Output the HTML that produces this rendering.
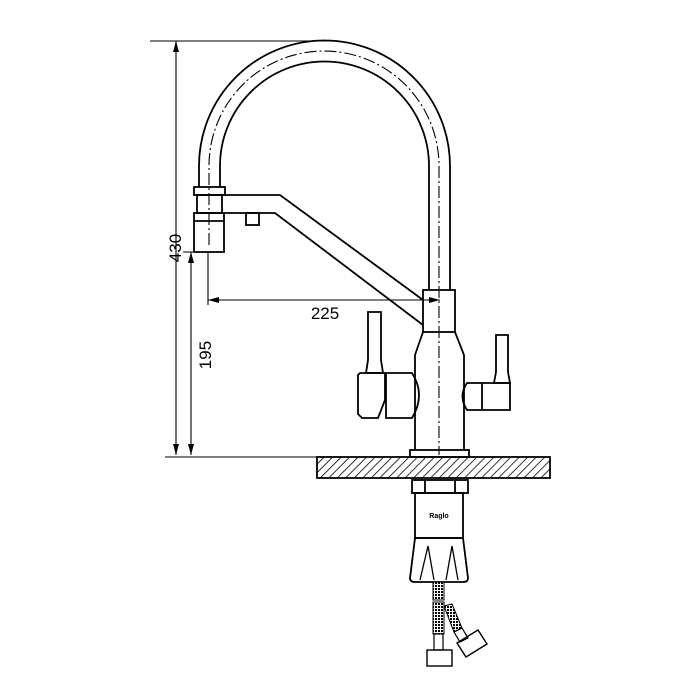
<!DOCTYPE html>
<html><head><style>body{margin:0;background:#fff}svg{display:block}</style></head><body>
<svg width="700" height="700" viewBox="0 0 700 700" xmlns="http://www.w3.org/2000/svg" font-family="Liberation Sans, sans-serif">
<defs>
<pattern id="h" width="6" height="6" patternUnits="userSpaceOnUse" patternTransform="rotate(45)"><line x1="0" y1="0" x2="0" y2="6" stroke="#000" stroke-width="1.6"/></pattern>
<pattern id="m" width="3" height="3" patternUnits="userSpaceOnUse"><rect width="3" height="3" fill="#fff"/><rect width="2" height="2" fill="#000"/></pattern>
</defs>
<g fill="none" stroke="#000" stroke-width="1.8">
<line x1="150" y1="41" x2="335" y2="41" stroke-width="1.1"/>
<line x1="176" y1="41" x2="176" y2="455" stroke-width="1.1"/>
<line x1="165" y1="457" x2="317" y2="457" stroke-width="1.1"/>
<line x1="183" y1="252" x2="208" y2="252" stroke-width="1.1"/>
<line x1="191" y1="252" x2="191" y2="455" stroke-width="1.1"/>
<line x1="208" y1="252" x2="208" y2="305" stroke-width="1.1"/>
<line x1="208" y1="300" x2="440" y2="300" stroke-width="1.1"/>
<path d="M199 187 V166 A125.5 125.5 0 0 1 450 166 V290"/>
<path d="M220 187 V166 A104.5 104.5 0 0 1 429 166 V290"/>
<path d="M209 245 V166 A115 115 0 0 1 439 166 V455" stroke-width="1.1" stroke-dasharray="12 3 2 3"/>
<rect x="194" y="187" width="31" height="8"/>
<rect x="197" y="195" width="25" height="18"/>
<rect x="194" y="213" width="30" height="39"/>
<line x1="194" y1="221" x2="224" y2="221"/>
<path d="M225 195 H280 L423 300"/>
<path d="M224 213 H275 L423 325"/>
<rect x="246" y="213" width="13" height="12"/>
<rect x="423" y="290" width="32" height="42"/>
<path d="M423 332 L415 355 V450 M455 332 L464 355 V450"/>
<rect x="410" y="450" width="59" height="7"/>
<path d="M368 312 H381 V360 L383 373 H366 L368 360 Z"/>
<path d="M360 373 H385 V400 L378 418 H362 L358 414 V375 Z"/>
<path d="M386 373 H412 Q426 395 412 418 H386 Z"/>
<path d="M496 335 H508 V372 L510 383 H494 L496 372 Z"/>
<path d="M467 383 H510 V410 H467 Q458 396 467 383 Z"/>
<line x1="482" y1="383" x2="482" y2="410"/>
<rect x="317" y="457" width="233" height="21" fill="url(#h)"/>
<rect x="412" y="480" width="56" height="13"/>
<line x1="425" y1="480" x2="425" y2="493"/><line x1="455" y1="480" x2="455" y2="493"/>
<rect x="415" y="493" width="48" height="45"/>
<path d="M415 538 H463 L468 578 Q468 582 463 582 H415 Q410 582 410 578 Z"/>
<path d="M420 580 L428 546 L434 580 M446 580 L452 546 L458 580" stroke-width="1.3"/>
<rect x="433" y="582" width="11" height="18" fill="url(#m)" stroke-width="1"/>
<rect x="433" y="602" width="11" height="32" fill="url(#m)" stroke-width="1"/>
<path d="M444 606 L452 604 L462 628 L454 632 Z" fill="url(#m)" stroke-width="1"/>
<rect x="434" y="634" width="9" height="16" stroke-width="1.2"/>
<rect x="427" y="650" width="25" height="16" stroke-width="1.4"/>
<path d="M454 632 L462 628 L468 638 L460 642 Z" stroke-width="1.2"/>
<path d="M457 643 L478 630 L487 644 L466 657 Z" stroke-width="1.4"/>
</g>
<g fill="#000">
<path d="M176 41 L173 52 L179 52 Z"/>
<path d="M176 455 L173 444 L179 444 Z"/>
<path d="M191 252 L188 263 L194 263 Z"/>
<path d="M191 455 L188 444 L194 444 Z"/>
<path d="M208 300 L219 297 L219 303 Z"/>
<path d="M440 300 L429 297 L429 303 Z"/>
</g>
<g font-size="17" fill="#000">
<text x="325" y="319" text-anchor="middle">225</text>
<text transform="translate(181,248) rotate(-90)" text-anchor="middle">430</text>
<text transform="translate(211,355) rotate(-90)" text-anchor="middle">195</text>
</g>
<text x="439" y="518" font-size="7" font-weight="bold" text-anchor="middle">Raglo</text>
</svg>
</body></html>
